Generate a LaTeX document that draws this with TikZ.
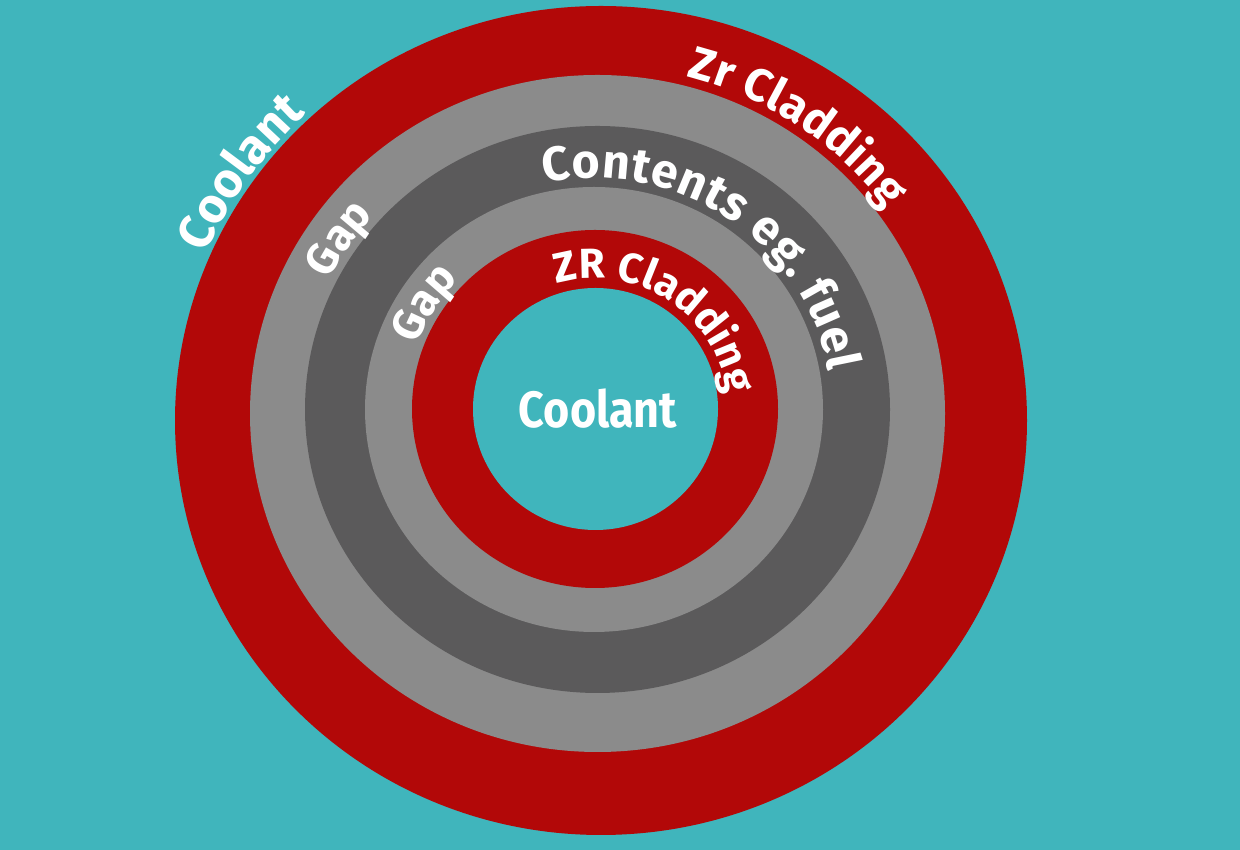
\documentclass[tikz,border=0pt]{standalone}
\usepackage{fontspec}
\usetikzlibrary{decorations.text}
\newfontfamily\labfont{Fira Sans}
\definecolor{bgcyan}{RGB}{64,181,188}
\definecolor{ringred}{RGB}{178,8,8}
\definecolor{lgray}{RGB}{139,139,139}
\definecolor{dgray}{RGB}{91,90,91}
\newcommand{\curvefont}[1]{\labfont\bfseries\fontsize{#1}{#1}\selectfont}
\newcommand{\lab}[1]{\color{white}\curvefont{#1}}
\tikzset{
  curvelabel/.style 2 args={decorate, decoration={text effects along path, text={#2},
    text effects/.cd, text along path, fit text to path,
    characters={text=white, font=\curvefont{#1}}}},
  arclabel/.style={decorate, decoration={text along path, text align=center, text={#1}}}
}
\begin{document}
\begin{tikzpicture}[x=1pt,y=1pt]
\fill[bgcyan] (0,0) rectangle (1240,850);
\useasboundingbox (0,0) rectangle (1240,850);
% rings
\fill[ringred] (601,429.5) ellipse[x radius=426, y radius=414.5];
\fill[lgray] (597.5,436.5) ellipse[x radius=347.5, y radius=338.5];
\fill[dgray] (597.5,440.5) ellipse[x radius=292.5, y radius=283.5];
\fill[lgray] (594,440.5) ellipse[x radius=229, y radius=222.5];
\fill[ringred] (595,441) ellipse[x radius=183, y radius=179];
\fill[bgcyan] (595.5,441) ellipse[x radius=122.5, y radius=121];
% curved labels
\path[shift={(601,429.5)}, arclabel={|\lab{49}|Coolant}]
  (175:431 and 419.5) arc[start angle=175, end angle=115, x radius=431, y radius=419.5];
\path[shift={(597.5,436.5)}, curvelabel={46}{Zr Cladding}]
  (75.5:357 and 348) arc[start angle=75.5, end angle=36, x radius=357, y radius=348];
\path[shift={(594,440.5)}, curvelabel={48}{Contents eg. fuel}]
  (102:238 and 231.5) arc[start angle=102, end angle=9.5, x radius=238, y radius=231.5];
\path[shift={(597.5,440.5)}, arclabel={|\lab{44}|Gap}]
  (176:300 and 291) arc[start angle=176, end angle=116, x radius=300, y radius=291];
\path[shift={(595,441)}, arclabel={|\lab{44}|Gap}]
  (178:190 and 186) arc[start angle=178, end angle=118, x radius=190, y radius=186];
\path[shift={(595.5,441)}, curvelabel={42}{ZR Cladding}]
  (107:132 and 130.5) arc[start angle=107, end angle=6.5, x radius=132, y radius=130.5];
% centre label
\begin{scope}[shift={(598,441)}, xscale=0.88]
\node[transform shape, text=white, font=\labfont\bfseries\fontsize{51}{51}\selectfont] (core) at (0,0) {Coolant};
\end{scope}
\end{tikzpicture}
\end{document}
